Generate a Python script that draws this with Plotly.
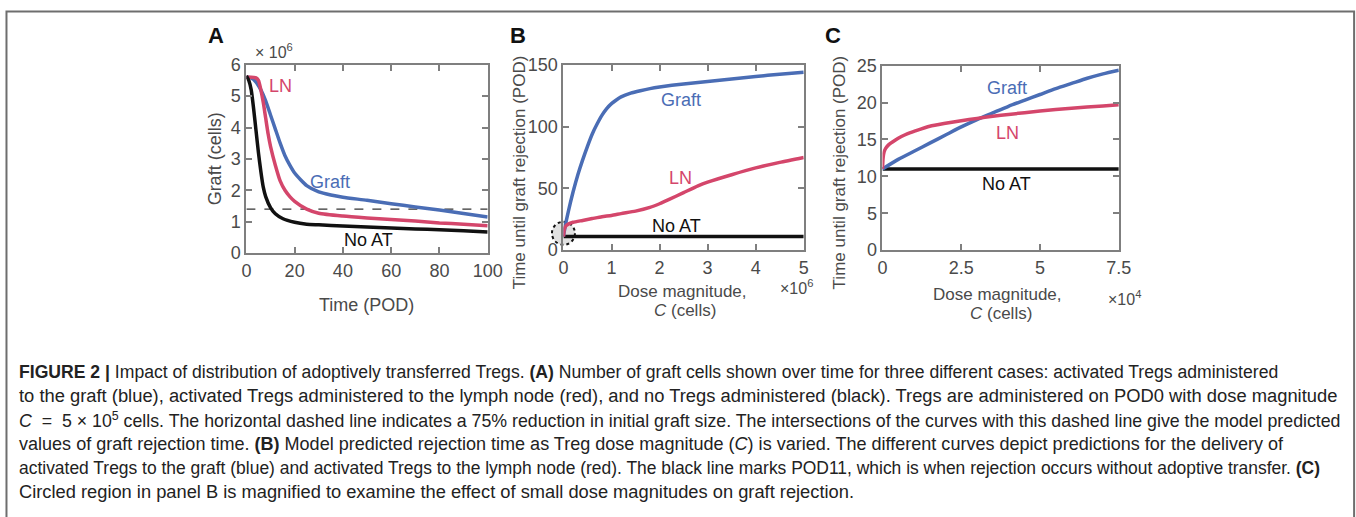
import plotly.graph_objects as go

W, H = 1356, 517            # target picture size
FIGW, FIGH = 1372, 517      # plotly figure size
# the page is photographed with the browser's 8px body margin and squeezed into W x H
PAGE_MARGIN = 8
SX = (W + 2 * PAGE_MARGIN) / W
SY = (H + 2 * PAGE_MARGIN) / H

# ---------------- data ----------------
# Panel A: graft size over time (x10^6 cells)
a_time_noat = [0, 1, 2, 3, 4, 5, 6, 7, 8, 10, 12, 15, 20, 25, 30, 40, 50, 60, 70, 80, 90, 100]
a_noat = [5.65, 5.5, 5.2, 4.6, 3.9, 3.2, 2.6, 2.1, 1.8, 1.45, 1.25, 1.1, 0.98, 0.92, 0.9, 0.86, 0.83, 0.8, 0.77, 0.74, 0.71, 0.67]
a_time_ln = [0, 2, 4, 5, 6, 7, 8, 9, 10, 12, 14, 16, 18, 20, 25, 30, 40, 50, 60, 70, 80, 90, 100]
a_ln = [5.6, 5.6, 5.58, 5.5, 5.2, 4.8, 4.3, 3.8, 3.4, 2.8, 2.3, 2.0, 1.8, 1.65, 1.4, 1.27, 1.18, 1.12, 1.07, 1.02, 0.96, 0.92, 0.87]
a_time_graft = [0, 2, 4, 6, 8, 10, 12, 14, 16, 18, 20, 25, 30, 35, 40, 50, 60, 70, 80, 90, 100]
a_graft = [5.6, 5.58, 5.45, 5.2, 4.85, 4.4, 3.95, 3.5, 3.1, 2.8, 2.55, 2.15, 1.95, 1.85, 1.78, 1.68, 1.57, 1.47, 1.37, 1.26, 1.15]
a_threshold = 1.4

# Panel B: rejection time vs dose (x10^6 cells)
b_dose_graft = [0, 0.05, 0.1, 0.2, 0.3, 0.4, 0.5, 0.6, 0.7, 0.8, 0.9, 1.0, 1.1, 1.2, 1.4, 1.6, 1.8, 2.0, 2.5, 3.0, 3.5, 4.0, 4.5, 5.0]
b_graft = [11, 22, 31, 47, 61, 73, 84, 94, 102, 109, 114.5, 118.5, 121.5, 124, 127, 129, 130.7, 132, 134.5, 136.5, 138.5, 140.5, 142.3, 144]
b_dose_ln = [0, 0.02, 0.05, 0.1, 0.2, 0.4, 0.6, 0.8, 1.0, 1.2, 1.5, 1.8, 2.0, 2.2, 2.5, 2.8, 3.0, 3.5, 4.0, 4.5, 5.0]
b_ln = [11, 17, 19.5, 21, 22.5, 24, 25.5, 27, 28, 29.5, 31.5, 34.5, 37.5, 41, 46.5, 52, 55, 61, 66.5, 71, 75]
b_dose_noat = [0, 5]
b_noat = [11, 11]
b_circle_center = 13.6

# Panel C: magnified small-dose region (x10^4 cells)
c_dose_graft = [0, 0.5, 1, 1.5, 2, 2.5, 3, 3.5, 4, 4.5, 5, 5.5, 6, 6.5, 7, 7.5]
c_graft = [11, 12.3, 13.4, 14.5, 15.6, 16.7, 17.7, 18.6, 19.5, 20.3, 21.1, 21.9, 22.6, 23.3, 23.9, 24.4]
c_dose_ln = [0, 0.02, 0.05, 0.1, 0.2, 0.4, 0.6, 0.8, 1.0, 1.5, 2.0, 2.5, 3.0, 3.5, 4.0, 5.0, 6.0, 7.0, 7.5]
c_ln = [11, 12.5, 13.3, 13.8, 14.3, 14.9, 15.4, 15.8, 16.1, 16.8, 17.2, 17.55, 17.85, 18.15, 18.4, 18.85, 19.25, 19.55, 19.7]
c_dose_noat = [0, 7.5]
c_noat = [11, 11]

a_xticks = [0, 20, 40, 60, 80, 100]
a_yticks = [0, 1, 2, 3, 4, 5, 6]
b_xticks = [0, 1, 2, 3, 4, 5]
b_yticks = [0, 50, 100, 150]
c_xticks = [0, 2.5, 5, 7.5]
c_yticks = [0, 5, 10, 15, 20, 25]

caption_lines = [
    "<b>FIGURE 2 |</b> Impact of distribution of adoptively transferred Tregs. <b>(A)</b> Number of graft cells shown over time for three different cases: activated Tregs administered",
    "to the graft (blue), activated Tregs administered to the lymph node (red), and no Tregs administered (black). Tregs are administered on POD0 with dose magnitude",
    "<i>C</i>  =  5 × 10<sup>5</sup> cells. The horizontal dashed line indicates a 75% reduction in initial graft size. The intersections of the curves with this dashed line give the model predicted",
    "values of graft rejection time. <b>(B)</b> Model predicted rejection time as Treg dose magnitude (<i>C</i>) is varied. The different curves depict predictions for the delivery of",
    "activated Tregs to the graft (blue) and activated Tregs to the lymph node (red). The black line marks POD11, which is when rejection occurs without adoptive transfer. <b>(C)</b>",
    "Circled region in panel B is magnified to examine the effect of small dose magnitudes on graft rejection.",
]

# ---------------- style ----------------
BLUE = "#4a6db5"
RED = "#d4466b"
BLACK = "#111111"
AXC = "#7f7f7f"
TXT = "#4a4a4a"
FONT = "Liberation Sans"
LW = 3.5
caption_sizes = [17.6, 18.35, 17.75, 18.05, 17.45, 18.3]
caption_y = [373, 397, 421, 446, 470, 494]


# target picture pixel -> paper fraction
def px(x):
    return (x * SX - PAGE_MARGIN) / FIGW


def py(y):
    return 1 - (y * SY - PAGE_MARGIN) / FIGH


domA = ([px(250), px(492)], [py(253), py(63)])
domB = ([px(568), px(809)], [py(250), py(63)])
domC = ([px(888), px(1125)], [py(250), py(64)])

fig = go.Figure()


def line(x, y, color, xa, ya, dash=None, width=LW):
    fig.add_trace(go.Scatter(x=x, y=y, mode="lines", xaxis=xa, yaxis=ya,
                             line=dict(color=color, width=width, shape="spline", smoothing=0.6, dash=dash),
                             showlegend=False, hoverinfo="skip"))


# Panel A
line([a_time_noat[0], a_time_noat[-1]], [a_threshold, a_threshold], "#333333", "x", "y", dash="dash", width=1.4)
line(a_time_graft, a_graft, BLUE, "x", "y")
line(a_time_ln, a_ln, RED, "x", "y")
line(a_time_noat, a_noat, BLACK, "x", "y")
# Panel B
line(b_dose_noat, b_noat, BLACK, "x2", "y2")
line(b_dose_graft, b_graft, BLUE, "x2", "y2")
line(b_dose_ln, b_ln, RED, "x2", "y2")
# Panel C
line(c_dose_noat, c_noat, BLACK, "x3", "y3")
line(c_dose_graft, c_graft, BLUE, "x3", "y3")
line(c_dose_ln, c_ln, RED, "x3", "y3")

axis_common = dict(showline=True, linecolor=AXC, linewidth=2, mirror="ticks",
                   ticks="inside", ticklen=6, tickwidth=1.5, tickcolor=AXC,
                   showgrid=False, zeroline=False, fixedrange=True,
                   tickfont=dict(family=FONT, size=18, color=TXT))

fig.update_layout(
    width=FIGW, height=FIGH, margin=dict(l=0, r=0, t=0, b=0),
    paper_bgcolor="white", plot_bgcolor="white",
    xaxis=dict(domain=domA[0], anchor="y", range=[0, 100], tickvals=a_xticks, **axis_common),
    yaxis=dict(domain=domA[1], anchor="x", range=[0, 6], tickvals=a_yticks, ticklabelstandoff=0, **axis_common),
    xaxis2=dict(domain=domB[0], anchor="y2", range=[0, 5], tickvals=b_xticks, **axis_common),
    yaxis2=dict(domain=domB[1], anchor="x2", range=[0, 150], tickvals=b_yticks, ticklabelstandoff=0, **axis_common),
    xaxis3=dict(domain=domC[0], anchor="y3", range=[0, 7.5], tickvals=c_xticks,
                ticktext=[("%g" % v) for v in c_xticks], **axis_common),
    yaxis3=dict(domain=domC[1], anchor="x3", range=[0, 25], tickvals=c_yticks, ticklabelstandoff=0, **axis_common),
)

# dashed circle in panel B (around the low-dose region)
fig.add_shape(type="circle", xref="paper", yref="y2", xsizemode="pixel", ysizemode="pixel",
              xanchor=domB[0][0], yanchor=b_circle_center, x0=-11.5, x1=11.5, y0=-11.5, y1=11.5,
              line=dict(color="#111111", width=2, dash="dot"), fillcolor="rgba(200,200,200,0.55)",
              layer="below")

# outer frame
fig.add_shape(type="rect", xref="paper", yref="paper",
              x0=max(px(8), 1.5 / FIGW), x1=min(px(1361), 1 - 1.5 / FIGW), y0=-0.1,
              y1=min(py(6.5), 1 - 1.5 / FIGH),
              line=dict(color="#6e6e6e", width=2), fillcolor="rgba(0,0,0,0)")


def text(x, y, s, size=18, color=TXT, bold=False, angle=0, xanchor="center", family=FONT):
    if bold:
        s = "<b>" + s + "</b>"
    fig.add_annotation(x=px(x), y=py(y), xref="paper", yref="paper", text=s, showarrow=False,
                       xanchor=xanchor, yanchor="middle", textangle=angle,
                       font=dict(family=family, size=size, color=color))


# panel letters
text(220, 33, "A", size=22, color="#111", bold=True)
text(522, 33, "B", size=22, color="#111", bold=True)
text(838, 33, "C", size=22, color="#111", bold=True)

# multipliers
text(257, 49, "× 10<sup>6</sup>", size=16, xanchor="left")
text(783, 287, "×10<sup>6</sup>", size=16, xanchor="left")
text(1112, 298, "×10<sup>4</sup>", size=16, xanchor="left")

# axis titles
text(218, 158, "Graft (cells)", size=18, angle=-90)
text(370, 305, "Time (POD)", size=18)
text(524, 172, "Time until graft rejection (POD)", size=17, angle=-90)
text(687, 292, "Dose magnitude,", size=17)
text(690, 311, "<i>C</i> (cells)", size=17)
text(845, 172, "Time until graft rejection (POD)", size=17, angle=-90)
text(1003, 295, "Dose magnitude,", size=17)
text(1007, 314, "<i>C</i> (cells)", size=17)

# curve labels
text(284, 84, "LN", size=18, color=RED)
text(334, 181, "Graft", size=18, color=BLUE)
text(372, 240, "No AT", size=18, color=BLACK)
text(686, 99, "Graft", size=18, color=BLUE)
text(685, 177, "LN", size=18, color=RED)
text(681, 226, "No AT", size=18, color=BLACK)
text(1013, 86, "Graft", size=18, color=BLUE)
text(1013, 132, "LN", size=18, color=RED)
text(1012, 183, "No AT", size=18, color=BLACK)

# caption
for s, yy, fs in zip(caption_lines, caption_y, caption_sizes):
    text(20, yy, s, size=fs, color="#222222", xanchor="left")

fig.write_html("out.html")
